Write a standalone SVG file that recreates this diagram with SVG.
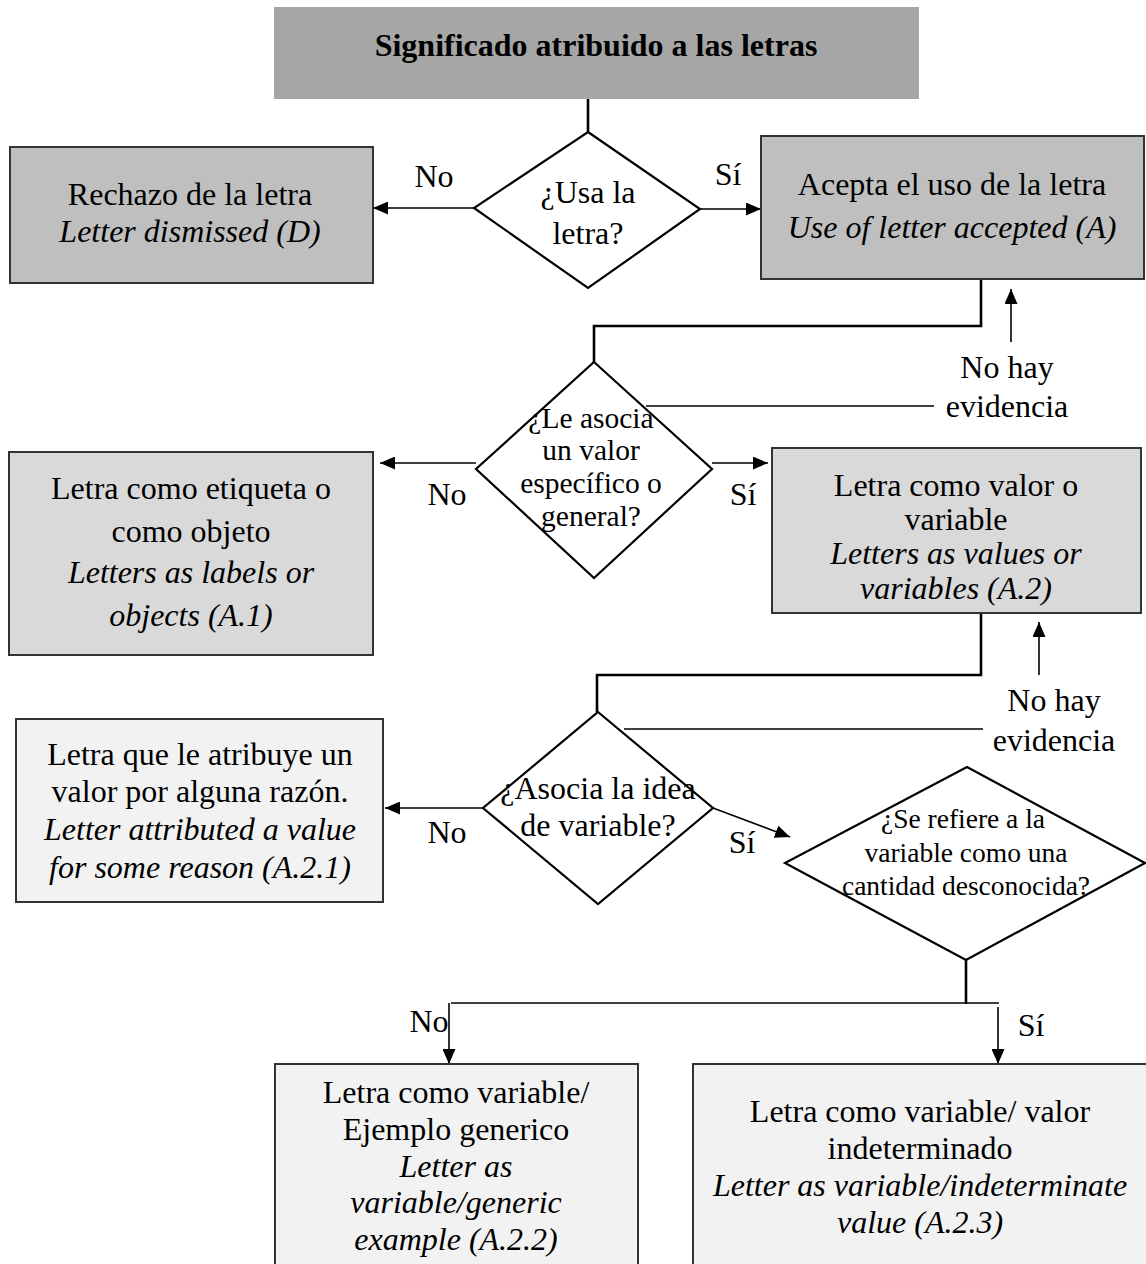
<svg xmlns="http://www.w3.org/2000/svg" width="1146" height="1264" viewBox="0 0 1146 1264">
  <defs>
    <marker id="arrow" viewBox="0 0 15 13" refX="15" refY="6.5" markerWidth="15" markerHeight="13" markerUnits="userSpaceOnUse" orient="auto">
      <path d="M0,0 L15,6.5 L0,13 Z" fill="#000"/>
    </marker>
    <style>
      text { font-family: 'Liberation Serif', 'DejaVu Serif', serif; }
      .t { font-size: 32px; fill: #000; text-anchor: middle; }
      .i { font-style: italic; }
      .b { font-weight: bold; }
      .d2 { font-size: 29.5px; }
      .d4 { font-size: 27.5px; }
      .box { stroke: #333; stroke-width: 2; }
      .dia { fill: none; stroke: #000; stroke-width: 2.2; }
      .thick { fill: none; stroke: #000; stroke-width: 2.6; }
      .thin { fill: none; stroke: #000; stroke-width: 1.6; }
      .arr { fill: none; stroke: #000; stroke-width: 1.6; marker-end: url(#arrow); }
    </style>
  </defs>

  <rect width="1146" height="1264" fill="#fff"/>

  <!-- connectors -->
  <g id="connectors">
    <path class="thick" d="M588,99 V132"/>
    <line class="arr" x1="474" y1="208" x2="373" y2="208"/>
    <line class="arr" x1="700" y1="209" x2="761" y2="209"/>
    <path class="thick" d="M981,279 V326 H594 V362"/>
    <line class="arr" x1="1011" y1="342" x2="1011" y2="289"/>
    <path class="thin" d="M646,406 H934"/>
    <line class="arr" x1="476" y1="463" x2="380" y2="463"/>
    <line class="arr" x1="712" y1="463" x2="768" y2="463"/>
    <path class="thick" d="M981,613 V675 H597 V712"/>
    <line class="arr" x1="1039" y1="675" x2="1039" y2="622"/>
    <path class="thin" d="M624,729 H983"/>
    <line class="arr" x1="483" y1="808" x2="385" y2="808"/>
    <line class="arr" x1="713" y1="808" x2="790" y2="837"/>
    <path class="thick" d="M966,960 V1004"/>
    <path class="thin" d="M451,1003 H999"/>
    <line class="arr" x1="449" y1="1003" x2="449" y2="1064"/>
    <line class="arr" x1="998" y1="1007" x2="998" y2="1064"/>
  </g>

  <!-- edge labels -->
  <g id="labels">
    <text class="t" x="434" y="187">No</text>
    <text class="t" x="728" y="185">Sí</text>
    <text class="t" x="1007" y="378">No hay</text>
    <text class="t" x="1007" y="417">evidencia</text>
    <text class="t" x="447" y="505">No</text>
    <text class="t" x="743" y="505">Sí</text>
    <text class="t" x="1054" y="711">No hay</text>
    <text class="t" x="1054" y="751">evidencia</text>
    <text class="t" x="447" y="843">No</text>
    <text class="t" x="742" y="853">Sí</text>
    <text class="t" x="429" y="1032">No</text>
    <text class="t" x="1031" y="1036">Sí</text>
  </g>

  <g id="title">
    <rect x="274" y="7" width="645" height="92" fill="#a6a6a6"/>
    <text class="t b" x="596" y="56">Significado atribuido a las letras</text>
  </g>

  <g id="q-usa">
    <polygon class="dia" points="588,132 700,209 588,288 474,208"/>
    <text class="t" x="588" y="203">¿Usa la</text>
    <text class="t" x="588" y="244">letra?</text>
  </g>

  <g id="dismissed">
    <rect class="box" x="10" y="147" width="363" height="136" fill="#bfbfbf"/>
    <text class="t" x="190" y="205">Rechazo de la letra</text>
    <text class="t i" x="190" y="242">Letter dismissed (D)</text>
  </g>

  <g id="accepted">
    <rect class="box" x="761" y="136" width="383" height="143" fill="#bfbfbf"/>
    <text class="t" x="952" y="195">Acepta el uso de la letra</text>
    <text class="t i" x="952" y="238">Use of letter accepted (A)</text>
  </g>

  <g id="q-valor">
    <polygon class="dia" points="594,362 712,469 594,578 476,469"/>
    <text class="t d2" x="591" y="428">¿Le asocia</text>
    <text class="t d2" x="591" y="460">un valor</text>
    <text class="t d2" x="591" y="493">específico o</text>
    <text class="t d2" x="591" y="526">general?</text>
  </g>

  <g id="labels-objects">
    <rect class="box" x="9" y="452" width="364" height="203" fill="#d9d9d9"/>
    <text class="t" x="191" y="499">Letra como etiqueta o</text>
    <text class="t" x="191" y="542">como objeto</text>
    <text class="t i" x="191" y="583">Letters as labels or</text>
    <text class="t i" x="191" y="626">objects (A.1)</text>
  </g>

  <g id="values-variables">
    <rect class="box" x="772" y="448" width="369" height="165" fill="#d9d9d9"/>
    <text class="t" x="956" y="496">Letra como valor o</text>
    <text class="t" x="956" y="530">variable</text>
    <text class="t i" x="956" y="564">Letters as values or</text>
    <text class="t i" x="956" y="599">variables (A.2)</text>
  </g>

  <g id="q-variable">
    <polygon class="dia" points="598,712 713,808 598,904 483,808"/>
    <text class="t" x="598" y="799">¿Asocia la idea</text>
    <text class="t" x="598" y="836">de variable?</text>
  </g>

  <g id="attributed-value">
    <rect class="box" x="16" y="719" width="367" height="183" fill="#f2f2f2"/>
    <text class="t" x="200" y="765">Letra que le atribuye un</text>
    <text class="t" x="200" y="802">valor por alguna razón.</text>
    <text class="t i" x="200" y="840">Letter attributed a value</text>
    <text class="t i" x="200" y="878">for some reason (A.2.1)</text>
  </g>

  <g id="q-cantidad">
    <polygon class="dia" points="967,767 1145,863 966,960 785,863"/>
    <text class="t d4" x="963" y="828">¿Se refiere a la</text>
    <text class="t d4" x="966" y="862">variable como una</text>
    <text class="t d4" x="966" y="895">cantidad desconocida?</text>
  </g>

  <g id="generic-example">
    <rect class="box" x="275" y="1064" width="363" height="210" fill="#f2f2f2"/>
    <text class="t" x="456" y="1103">Letra como variable/</text>
    <text class="t" x="456" y="1140">Ejemplo generico</text>
    <text class="t i" x="456" y="1177">Letter as</text>
    <text class="t i" x="456" y="1213">variable/generic</text>
    <text class="t i" x="456" y="1250">example (A.2.2)</text>
  </g>

  <g id="indeterminate-value">
    <rect class="box" x="693" y="1064" width="463" height="210" fill="#f2f2f2"/>
    <text class="t" x="920" y="1122">Letra como variable/ valor</text>
    <text class="t" x="920" y="1159">indeterminado</text>
    <text class="t i" x="920" y="1196">Letter as variable/indeterminate</text>
    <text class="t i" x="920" y="1233">value (A.2.3)</text>
  </g>
</svg>
